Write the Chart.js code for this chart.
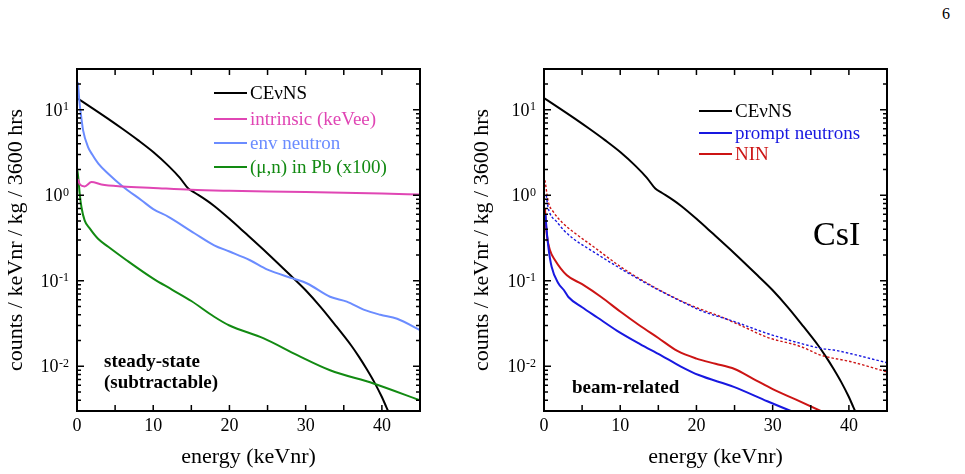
<!DOCTYPE html>
<html>
<head>
<meta charset="utf-8">
<script src="https://cdn.jsdelivr.net/npm/chart.js@4.4.1/dist/chart.umd.min.js"></script>
<style>
    body { margin: 0; background: #fff; width: 965px; height: 474px; overflow: hidden; position: relative; }
    canvas { position: absolute; top: 0; }
    #pagenum { position: absolute; left: 942px; top: 5px; font: 16px "Liberation Serif", serif; }
</style>
</head>
<body>
<div id="pagenum">6</div>
<canvas id="left" width="465" height="474" style="left:0px"></canvas>
<canvas id="right" width="500" height="474" style="left:465px"></canvas>
<script>
// values (energy keVnr -> counts / keVnr / kg / 3600 hrs)
const cevnsX = [0, 2, 4, 6, 8, 10, 12, 13.5, 14.6, 15.5, 17, 18, 20, 22, 25, 28, 30, 32, 34, 36, 37, 38, 39, 40, 40.6, 41.2];
const cevnsY = [13.7, 10.47, 7.94, 5.96, 4.42, 3.21, 2.21, 1.6, 1.2, 1.064, 0.871, 0.75, 0.531, 0.367, 0.209, 0.116, 0.0776, 0.049, 0.0295, 0.0174, 0.0129, 0.0093, 0.00653, 0.00437, 0.00331, 0.00251];

const intrinsicX = [0.1, 0.4, 1.0, 1.9, 3.2, 6, 10, 15, 20, 25, 30, 35, 40, 45];
const intrinsicY = [1.55, 1.33, 1.27, 1.43, 1.34, 1.27, 1.22, 1.16, 1.13, 1.11, 1.09, 1.07, 1.05, 1.02];

const envX = [0.12, 0.3, 0.5, 0.8, 1.45, 2.0, 2.8, 4.1, 6, 8.5, 10, 12, 15.4, 18, 20, 22.7, 25, 28.4, 30.2, 33.2, 35.4, 37.6, 39.8, 42, 45];
const envY = [21, 13, 9.0, 5.75, 3.67, 3.0, 2.35, 1.79, 1.27, 0.87, 0.69, 0.56, 0.36, 0.26, 0.22, 0.174, 0.135, 0.106, 0.093, 0.065, 0.057, 0.046, 0.040, 0.036, 0.0265];

const muPbX = [0.05, 0.2, 0.35, 0.58, 1.0, 1.67, 2.76, 4.1, 6.5, 10, 12.5, 15, 18, 20, 24.5, 28.9, 33.2, 38.9, 45];
const muPbY = [1.96, 1.5, 1.05, 0.73, 0.51, 0.41, 0.31, 0.25, 0.174, 0.106, 0.0785, 0.058, 0.038, 0.030, 0.0212, 0.0135, 0.009, 0.0063, 0.004];

const promptX = [0.2, 0.26, 0.57, 1.0, 1.9, 2.6, 3.2, 5, 7, 9.6, 12.6, 15.3, 17.9, 20.3, 24.9, 29.3, 32.4, 33.5];
const promptY = [0.6, 0.49, 0.25, 0.146, 0.093, 0.078, 0.0646, 0.049, 0.0372, 0.026, 0.0182, 0.0135, 0.01, 0.0079, 0.00575, 0.0039, 0.003, 0.00275];

const ninX = [0.12, 0.35, 0.79, 1.45, 3.0, 5, 7.5, 10, 12.5, 15, 17.5, 20, 22.5, 25, 27.5, 30, 33, 36.3, 37];
const ninY = [0.7, 0.357, 0.228, 0.174, 0.116, 0.0912, 0.0646, 0.0437, 0.0302, 0.0214, 0.0151, 0.0123, 0.0107, 0.0093, 0.0071, 0.0054, 0.0041, 0.003, 0.0028];

// dotted curves (no legend entry)
const promptDotX = [0.3, 0.5, 0.79, 1.67, 2.6, 3.86, 6.5, 10.4, 14.8, 19.2, 20.5, 24.9, 29.3, 33.7, 36.3, 38, 40.3, 45];
const promptDotY = [1.0, 0.75, 0.61, 0.49, 0.39, 0.31, 0.218, 0.133, 0.08, 0.051, 0.045, 0.0335, 0.0242, 0.0185, 0.0162, 0.0155, 0.014, 0.011];
const ninDotX = [0.13, 0.57, 1.23, 2.5, 3.86, 6.5, 10.4, 14.8, 19.2, 23.2, 26, 29.3, 33.7, 36.3, 40.3, 45];
const ninDotY = [1.5, 0.835, 0.64, 0.47, 0.372, 0.25, 0.139, 0.081, 0.052, 0.038, 0.0295, 0.0218, 0.017, 0.0135, 0.0113, 0.0086];

const xTicks = [0, 10, 20, 30, 40];
const yTicks = [0.01, 0.1, 1, 10];
const yTickExp = ["-2", "-1", "0", "1"];

const SERIF = '"Liberation Serif", "Times New Roman", serif';

function pts(xs, ys) {
    return xs.map((x, i) => ({ x: x, y: ys[i] }));
}

function line(label, xs, ys, color, dotted) {
    return {
        label: label,
        data: pts(xs, ys),
        borderColor: color,
        borderWidth: dotted ? 1.4 : 2,
        borderDash: dotted ? [2.5, 2] : [],
        fill: false,
        pointRadius: 0,
        cubicInterpolationMode: "monotone",
    };
}

function panelPlugin(cfg) {
    return {
        id: "panel",
        afterDraw(chart) {
            const ctx = chart.ctx;
            const a = chart.chartArea;
            const xs = chart.scales.x;
            const ys = chart.scales.y;
            ctx.save();
            ctx.fillStyle = "#000";
            ctx.strokeStyle = "#000";

            // ticks pointing inwards on all four sides
            ctx.lineWidth = 1.5;
            ctx.beginPath();
            for (let v = 0; v <= 45; v += 5) {
                const px = xs.getPixelForValue(v);
                ctx.moveTo(px, a.bottom); ctx.lineTo(px, a.bottom - 6);
                ctx.moveTo(px, a.top); ctx.lineTo(px, a.top + 6);
            }
            [yTicks[0] / 10].concat(yTicks).forEach((d) => {
                for (let m = 1; m < 10; m++) {
                    const v = d * m;
                    if (v < ys.min * 0.999 || v > ys.max * 1.001) continue;
                    const py = ys.getPixelForValue(v);
                    const len = m === 1 ? 7 : 4;
                    ctx.moveTo(a.left, py); ctx.lineTo(a.left + len, py);
                    ctx.moveTo(a.right, py); ctx.lineTo(a.right - len, py);
                }
            });
            ctx.stroke();

            // frame
            ctx.lineWidth = 2;
            ctx.strokeRect(a.left, a.top, a.right - a.left, a.bottom - a.top);

            // x tick labels
            ctx.font = "18px " + SERIF;
            ctx.textAlign = "center";
            ctx.textBaseline = "middle";
            xTicks.forEach((v) => {
                ctx.fillText(String(v), xs.getPixelForValue(v), a.bottom + 15);
            });

            // y tick labels 10^n
            ctx.textAlign = "right";
            ctx.textBaseline = "alphabetic";
            yTicks.forEach((v, i) => {
                const py = ys.getPixelForValue(v);
                ctx.font = "12px " + SERIF;
                const ew = ctx.measureText(yTickExp[i]).width;
                ctx.fillText(yTickExp[i], a.left - 8, py + 0.5);
                ctx.font = "18px " + SERIF;
                ctx.fillText("10", a.left - 8 - ew - 0.5, py + 6);
            });

            // axis titles
            ctx.font = "22px " + SERIF;
            ctx.textAlign = "center";
            ctx.textBaseline = "middle";
            ctx.fillText("energy (keVnr)", (a.left + a.right) / 2, 457);
            ctx.save();
            ctx.translate(cfg.yTitleX, (a.top + a.bottom) / 2);
            ctx.rotate(-Math.PI / 2);
            ctx.fillText("counts / keVnr / kg / 3600 hrs", 0, 0);
            ctx.restore();

            // legend inside the plot
            ctx.textAlign = "left";
            ctx.font = "19px " + SERIF;
            cfg.legend.forEach((e) => {
                ctx.strokeStyle = e.color;
                ctx.lineWidth = 2;
                ctx.beginPath();
                ctx.moveTo(cfg.legendX1, e.y);
                ctx.lineTo(cfg.legendX2, e.y);
                ctx.stroke();
                ctx.fillStyle = e.color;
                ctx.fillText(e.text, cfg.legendX2 + 3, e.y + 1);
            });

            // notes
            ctx.fillStyle = "#000";
            cfg.notes.forEach((n) => {
                ctx.font = n.font + " " + SERIF;
                ctx.fillText(n.text, n.x, n.y);
            });
            ctx.restore();
        },
    };
}

function makePanel(id, datasets, padding, cfg) {
    return new Chart(document.getElementById(id).getContext("2d"), {
        type: "line",
        data: { datasets: datasets },
        options: {
            responsive: false,
            animation: false,
            layout: { padding: padding },
            plugins: { legend: { display: false }, tooltip: { enabled: false } },
            scales: {
                x: { type: "linear", min: 0, max: 45, display: false },
                y: { type: "logarithmic", min: 0.003, max: 30, display: false },
            },
        },
        plugins: [panelPlugin(cfg)],
    });
}

const C_BLACK = "#000000";
const C_MAGENTA = "#e046b4";
const C_LIGHTBLUE = "#6b8cff";
const C_GREEN = "#128a12";
const C_BLUE = "#1818e0";
const C_RED = "#cc1414";

makePanel(
    "left",
    [
        line("intrinsic (keVee)", intrinsicX, intrinsicY, C_MAGENTA, false),
        line("(μ,n) in Pb (x100)", muPbX, muPbY, C_GREEN, false),
        line("env neutron", envX, envY, C_LIGHTBLUE, false),
        line("CEνNS", cevnsX, cevnsY, C_BLACK, false),
    ],
    { left: 77, right: 45, top: 69, bottom: 63 },
    {
        yTitleX: 16,
        legendX1: 214,
        legendX2: 247,
        legend: [
            { text: "CEνNS", color: C_BLACK, y: 93 },
            { text: "intrinsic (keVee)", color: C_MAGENTA, y: 119 },
            { text: "env neutron", color: C_LIGHTBLUE, y: 143 },
            { text: "(μ,n) in Pb (x100)", color: C_GREEN, y: 167 },
        ],
        notes: [
            { text: "steady-state", x: 104, y: 362, font: "bold 19px" },
            { text: "(subtractable)", x: 104, y: 383, font: "bold 19px" },
        ],
    },
);

makePanel(
    "right",
    [
        line("prompt neutrons (dotted)", promptDotX, promptDotY, C_BLUE, true),
        line("NIN (dotted)", ninDotX, ninDotY, C_RED, true),
        line("prompt neutrons", promptX, promptY, C_BLUE, false),
        line("NIN", ninX, ninY, C_RED, false),
        line("CEνNS", cevnsX, cevnsY, C_BLACK, false),
    ],
    { left: 79, right: 78, top: 69, bottom: 63 },
    {
        yTitleX: 17,
        legendX1: 234,
        legendX2: 267,
        legend: [
            { text: "CEνNS", color: C_BLACK, y: 111 },
            { text: "prompt neutrons", color: C_BLUE, y: 133 },
            { text: "NIN", color: C_RED, y: 154 },
        ],
        notes: [
            { text: "beam-related", x: 107, y: 388, font: "bold 19px" },
            { text: "CsI", x: 348, y: 236, font: "34px" },
        ],
    },
);
</script>
</body>
</html>
